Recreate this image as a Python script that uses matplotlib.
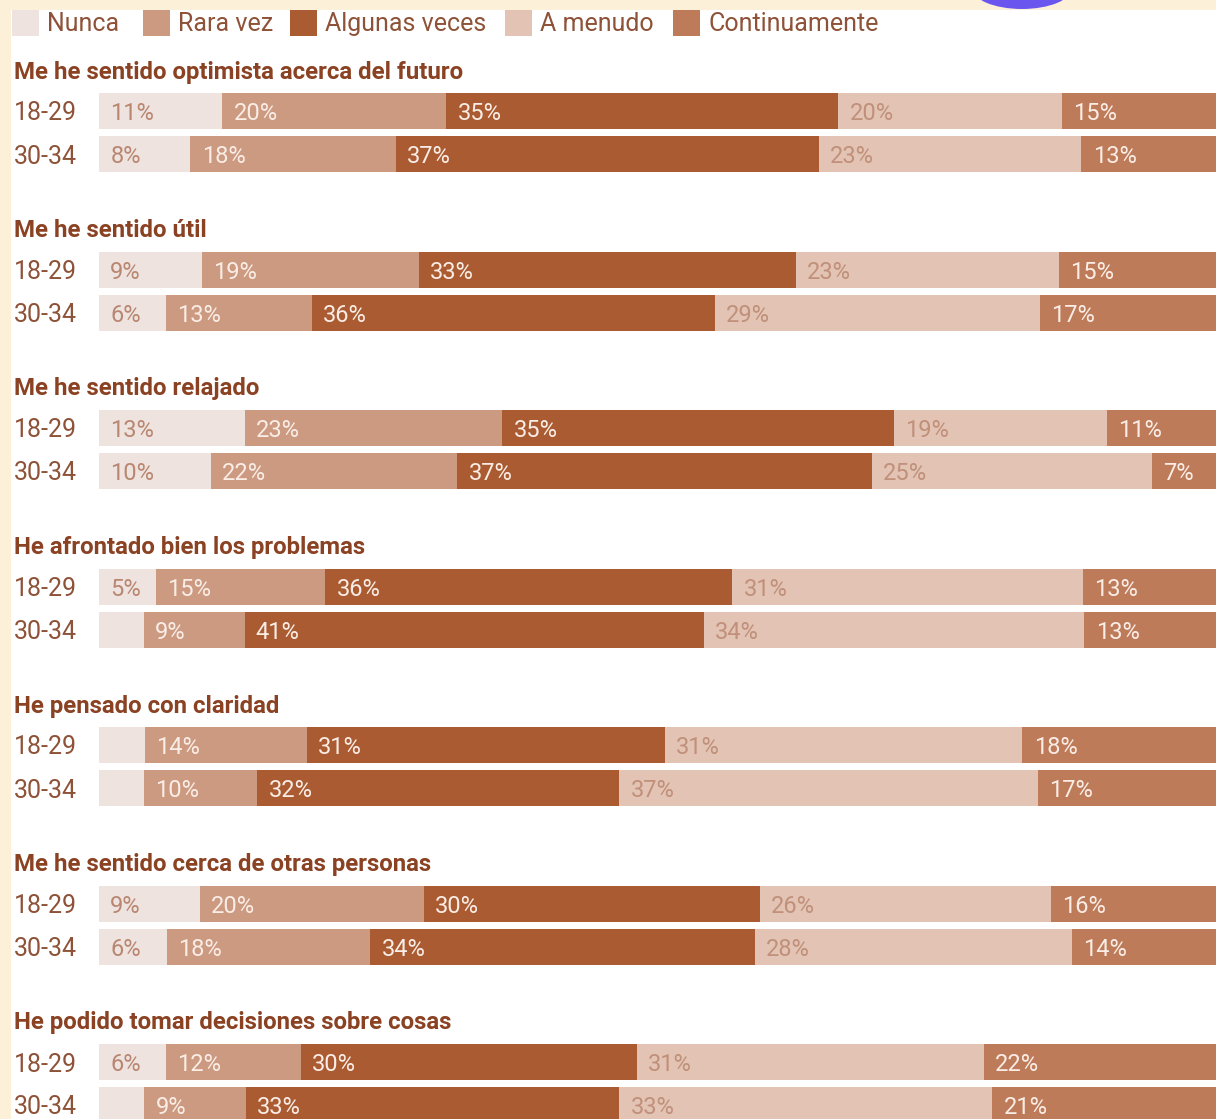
import matplotlib
matplotlib.use("Agg")
import matplotlib.pyplot as plt
from matplotlib.patches import Rectangle, Ellipse

# ---------------- data ----------------
categories = ["Nunca", "Rara vez", "Algunas veces", "A menudo", "Continuamente"]
questions = [
    "Me he sentido optimista acerca del futuro",
    "Me he sentido útil",
    "Me he sentido relajado",
    "He afrontado bien los problemas",
    "He pensado con claridad",
    "Me he sentido cerca de otras personas",
    "He podido tomar decisiones sobre cosas",
]
age_groups = ["18-29", "30-34"]
values_18_29 = [
    [11, 20, 35, 20, 15],
    [9, 19, 33, 23, 15],
    [13, 23, 35, 19, 11],
    [5, 15, 36, 31, 13],
    [4, 14, 31, 31, 18],
    [9, 20, 30, 26, 16],
    [6, 12, 30, 31, 22],
]
values_30_34 = [
    [8, 18, 37, 23, 13],
    [6, 13, 36, 29, 17],
    [10, 22, 37, 25, 7],
    [4, 9, 41, 34, 13],
    [4, 10, 32, 37, 17],
    [6, 18, 34, 28, 14],
    [4, 9, 33, 33, 21],
]

# ---------------- style ----------------
colors = ["#EEE3DF", "#CB9A81", "#AA5B31", "#E3C3B4", "#BE7B59"]
label_colors = ["#B98771", "#FAEDE6", "#FAEDE6", "#C0907A", "#FAEDE6"]
title_color = "#8A4223"
text_color = "#8E5238"

W, H = 1216, 1119
fig = plt.figure(figsize=(W / 100, H / 100), dpi=100)
fig.patch.set_facecolor("white")
plt.rcParams["font.family"] = ["Roboto", "DejaVu Sans"]


def fx(px):
    return px / W


def fy(py):
    return 1 - py / H


# background decorations (cream strips, purple blob)
fig.add_artist(Rectangle((0, fy(10)), 1, 10 / H, transform=fig.transFigure,
                         facecolor="#FDF0D9", edgecolor="none", zorder=0))
fig.add_artist(Rectangle((0, 0), 11 / W, 1, transform=fig.transFigure,
                         facecolor="#FDF0D9", edgecolor="none", zorder=0))
fig.add_artist(Ellipse((fx(1022), fy(-12)), 100 / W, 42 / H, transform=fig.transFigure,
                       facecolor="#6A56EE", edgecolor="none", zorder=1))

# legend
leg_sq_x = [12, 143, 290, 505, 673]
for i, cat in enumerate(categories):
    fig.add_artist(Rectangle((fx(leg_sq_x[i]), fy(36)), 27 / W, 26 / H,
                             transform=fig.transFigure, facecolor=colors[i],
                             edgecolor="none", zorder=2))
    fig.text(fx(leg_sq_x[i] + 35), fy(24), cat, fontsize=18, color=text_color,
             va="center", ha="left", zorder=3)

bar_left = 99
bar_full = 1131
group_step = 158.5
first_center = 111
row_gap = 43

for g, q in enumerate(questions):
    c0 = first_center + g * group_step
    top = c0 - row_gap / 2
    bottom = c0 + row_gap + row_gap / 2
    ax = fig.add_axes([fx(bar_left), fy(bottom), bar_full / W, (bottom - top) / H])
    ax.set_xlim(0, 100)
    ax.set_ylim(1.5, -0.5)
    ax.axis("off")
    rows = [values_18_29[g], values_30_34[g]]
    for r, vals in enumerate(rows):
        tot = sum(vals)
        left = 0.0
        for k, v in enumerate(vals):
            w = v / tot * 100
            ax.barh(r, w, left=left, height=36 / row_gap, color=colors[k],
                    edgecolor="none")
            if v >= 5:
                ax.text(left + 1.0, r + 0.06, f"{v}%", color=label_colors[k],
                        fontsize=17, va="center", ha="left")
            left += w
        fig.text(fx(14), fy(c0 + r * row_gap + 2.5), age_groups[r], fontsize=18,
                 color=text_color, va="center", ha="left")
    fig.text(fx(14), fy(c0 - 39), q, fontsize=17.3, fontweight="bold",
             color=title_color, va="center", ha="left")

fig.savefig("out.png", dpi=100, facecolor="white")
